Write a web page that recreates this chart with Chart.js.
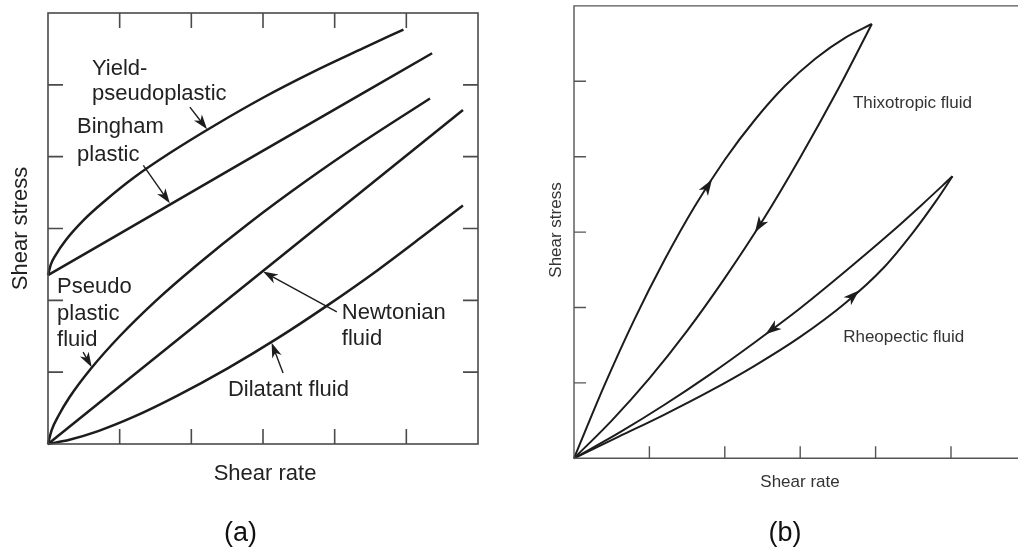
<!DOCTYPE html>
<html>
<head>
<meta charset="utf-8">
<title>Flow curves</title>
<script src="https://cdn.jsdelivr.net/npm/chart.js@4"></script>
<style>
  html, body { margin: 0; padding: 0; background: #fff; overflow: hidden; }
  body { width: 1018px; height: 547px; position: relative; }
  canvas { position: absolute; top: 0; }
  #chartA { left: 0; }
  #chartB { left: 540px; }
</style>
</head>
<body>
<canvas id="chartA" width="520" height="547"></canvas>
<canvas id="chartB" width="500" height="547"></canvas>
<script>
'use strict';

// (a) time-independent fluids: shear rate vs shear stress (axis units 0-6)
const yieldPseudoRate   = [0, 0.04, 0.1, 0.25, 0.5, 0.8, 1.2, 1.7, 2.3, 3.0, 3.7, 4.4, 4.96];
const yieldPseudoStress = [2.35, 2.50, 2.62, 2.84, 3.12, 3.39, 3.71, 4.05, 4.42, 4.82, 5.18, 5.51, 5.77];
const binghamRate   = [0, 2.7, 5.36];
const binghamStress = [2.35, 3.91, 5.44];
const pseudoRate   = [0, 0.05, 0.15, 0.3, 0.6, 1.0, 1.5, 2.1, 2.8, 3.6, 4.4, 5.33];
const pseudoStress = [0, 0.19, 0.40, 0.65, 1.05, 1.50, 1.99, 2.51, 3.07, 3.66, 4.21, 4.81];
const newtonRate   = [0, 5.79];
const newtonStress = [0, 4.65];
const dilatantRate   = [0, 0.3, 0.7, 1.2, 1.8, 2.5, 3.2, 3.9, 4.6, 5.2, 5.79];
const dilatantStress = [0, 0.06, 0.18, 0.38, 0.67, 1.05, 1.47, 1.93, 2.42, 2.87, 3.32];

// (b) time-dependent fluids: up and down branches of each loop
const thixoUpRate     = [0, 0.4, 0.8, 1.2, 1.6, 2.0, 2.4, 2.8, 3.2, 3.6, 3.95];
const thixoUpStress   = [0, 0.96, 1.84, 2.63, 3.34, 3.96, 4.49, 4.94, 5.30, 5.58, 5.76];
const thixoDownRate   = [0, 0.5, 1.0, 1.5, 2.0, 2.5, 3.0, 3.5, 3.95];
const thixoDownStress = [0, 0.50, 1.06, 1.69, 2.39, 3.15, 3.99, 4.89, 5.76];
const rheoDownRate    = [0, 0.6, 1.2, 1.8, 2.4, 3.0, 3.6, 4.2, 4.6, 5.02];
const rheoDownStress  = [0, 0.34, 0.71, 1.11, 1.54, 1.99, 2.48, 2.99, 3.35, 3.74];
const rheoUpRate      = [0, 0.6, 1.2, 1.8, 2.4, 3.0, 3.6, 4.1, 4.5, 4.8, 5.02];
const rheoUpStress    = [0, 0.29, 0.58, 0.89, 1.23, 1.61, 2.06, 2.52, 3.00, 3.41, 3.74];

const tickValues = [1, 2, 3, 4, 5];

const FONT = '"Liberation Sans", Arial, Helvetica, sans-serif';
const INK = '#1c1c1c';

// label callouts for (a): text lines and arrow from -> to, in axis units
const labelsA = [
  { text: 'Yield-', at: [0.614, 5.137] },
  { text: 'pseudoplastic', at: [0.614, 4.789] },
  { text: 'Bingham', at: [0.405, 4.33] },
  { text: 'plastic', at: [0.405, 3.94] },
  { text: 'Pseudo', at: [0.126, 2.10] },
  { text: 'plastic', at: [0.126, 1.726] },
  { text: 'fluid', at: [0.126, 1.364] },
  { text: 'Newtonian', at: [4.10, 1.74] },
  { text: 'fluid', at: [4.10, 1.378] },
  { text: 'Dilatant fluid', at: [2.51, 0.668] }
];
const pointersA = [
  { from: [1.98, 4.69], to: [2.22, 4.38] },
  { from: [1.33, 3.88], to: [1.70, 3.35] },
  { from: [0.49, 1.28], to: [0.61, 1.07] },
  { from: [4.03, 1.84], to: [3.00, 2.40] },
  { from: [3.28, 0.99], to: [3.12, 1.41] }
];
const labelsB = [
  { text: 'Thixotropic fluid', at: [3.70, 4.64] },
  { text: 'Rheopectic fluid', at: [3.57, 1.546] }
];
// direction markers on the loops (dir +1 = increasing shear rate)
const flowArrowsB = [
  { rate: thixoUpRate, stress: thixoUpStress, at: 1.83, dir: 1 },
  { rate: thixoDownRate, stress: thixoDownStress, at: 2.40, dir: -1 },
  { rate: rheoDownRate, stress: rheoDownStress, at: 2.54, dir: -1 },
  { rate: rheoUpRate, stress: rheoUpStress, at: 3.78, dir: 1 }
];

function curve(rates, stresses, width) {
  return {
    data: rates.map((r, i) => ({ x: r, y: stresses[i] })),
    showLine: true,
    borderColor: INK,
    borderWidth: width,
    pointRadius: 0,
    cubicInterpolationMode: 'monotone',
    fill: false,
    clip: false
  };
}

// linear lookup along a branch
function stressAt(rates, stresses, r) {
  for (let i = 1; i < rates.length; i++) {
    if (r <= rates[i]) {
      const t = (r - rates[i - 1]) / (rates[i] - rates[i - 1]);
      return stresses[i - 1] + t * (stresses[i] - stresses[i - 1]);
    }
  }
  return stresses[stresses.length - 1];
}

function arrowHead(ctx, x, y, angle, len, half) {
  ctx.save();
  ctx.translate(x, y);
  ctx.rotate(angle);
  ctx.beginPath();
  ctx.moveTo(0, 0);
  ctx.lineTo(-len, -half);
  ctx.lineTo(-len * 0.72, 0);
  ctx.lineTo(-len, half);
  ctx.closePath();
  ctx.fillStyle = INK;
  ctx.fill();
  ctx.restore();
}

function putText(ctx, str, x, y, size, align, color) {
  ctx.font = size + 'px ' + FONT;
  ctx.textAlign = align;
  ctx.textBaseline = 'alphabetic';
  ctx.fillStyle = color;
  ctx.fillText(str, x, y);
}

function putVertical(ctx, str, x, y, size, color) {
  ctx.save();
  ctx.translate(x, y);
  ctx.rotate(-Math.PI / 2);
  putText(ctx, str, 0, 0, size, 'center', color);
  ctx.restore();
}

// frame, ticks and callouts for (a)
const panelA = {
  id: 'panelA',
  afterDatasetsDraw(chart) {
    const { ctx, chartArea: a, scales: { x, y } } = chart;
    ctx.save();
    ctx.strokeStyle = '#4a4a4a';
    ctx.lineWidth = 1.6;
    ctx.strokeRect(a.left, a.top, a.right - a.left, a.bottom - a.top);
    ctx.beginPath();
    tickValues.forEach((v) => {
      const px = x.getPixelForValue(v);
      const py = y.getPixelForValue(v);
      ctx.moveTo(px, a.top); ctx.lineTo(px, a.top + 15);
      ctx.moveTo(px, a.bottom); ctx.lineTo(px, a.bottom - 15);
      ctx.moveTo(a.left, py); ctx.lineTo(a.left + 15, py);
      ctx.moveTo(a.right, py); ctx.lineTo(a.right - 15, py);
    });
    ctx.stroke();

    labelsA.forEach((l) => {
      putText(ctx, l.text, x.getPixelForValue(l.at[0]), y.getPixelForValue(l.at[1]), 22, 'left', '#222');
    });

    ctx.strokeStyle = INK;
    ctx.lineWidth = 1.4;
    pointersA.forEach((p) => {
      const x0 = x.getPixelForValue(p.from[0]), y0 = y.getPixelForValue(p.from[1]);
      const x1 = x.getPixelForValue(p.to[0]), y1 = y.getPixelForValue(p.to[1]);
      const ang = Math.atan2(y1 - y0, x1 - x0);
      ctx.beginPath();
      ctx.moveTo(x0, y0);
      ctx.lineTo(x1 - Math.cos(ang) * 9, y1 - Math.sin(ang) * 9);
      ctx.stroke();
      arrowHead(ctx, x1, y1, ang, 15, 5);
    });

    putText(ctx, 'Shear rate', (a.left + a.right) / 2 + 2, a.bottom + 36, 22, 'center', '#222');
    putVertical(ctx, 'Shear stress', 27, (a.top + a.bottom) / 2, 22, '#222');
    putText(ctx, '(a)', 240.5, 541, 27, 'center', '#111');
    ctx.restore();
  }
};

// open frame, ticks and loop markers for (b)
const panelB = {
  id: 'panelB',
  afterDatasetsDraw(chart) {
    const { ctx, chartArea: a, scales: { x, y }, width } = chart;
    ctx.save();
    ctx.strokeStyle = '#555';
    ctx.lineWidth = 1.4;
    ctx.beginPath();
    ctx.moveTo(width, a.top); ctx.lineTo(a.left, a.top);
    ctx.lineTo(a.left, a.bottom); ctx.lineTo(width, a.bottom);
    tickValues.forEach((v) => {
      const px = x.getPixelForValue(v);
      const py = y.getPixelForValue(v);
      ctx.moveTo(px, a.bottom); ctx.lineTo(px, a.bottom - 12);
      ctx.moveTo(a.left, py); ctx.lineTo(a.left + 12, py);
    });
    ctx.stroke();

    flowArrowsB.forEach((f) => {
      const back = f.at - f.dir * 0.15;
      const x1 = x.getPixelForValue(f.at), y1 = y.getPixelForValue(stressAt(f.rate, f.stress, f.at));
      const x0 = x.getPixelForValue(back), y0 = y.getPixelForValue(stressAt(f.rate, f.stress, back));
      arrowHead(ctx, x1, y1, Math.atan2(y1 - y0, x1 - x0), 16, 5.5);
    });

    labelsB.forEach((l) => {
      putText(ctx, l.text, x.getPixelForValue(l.at[0]), y.getPixelForValue(l.at[1]), 17, 'left', '#333');
    });

    putText(ctx, 'Shear rate', 260, 487, 17, 'center', '#333');
    putVertical(ctx, 'Shear stress', 20.5, 230, 17, '#333');
    putText(ctx, '(b)', 245, 541, 27, 'center', '#111');
    ctx.restore();
  }
};

function baseOptions(padding) {
  return {
    responsive: false,
    animation: false,
    devicePixelRatio: 1,
    layout: { padding: padding },
    plugins: { legend: { display: false }, tooltip: { enabled: false } },
    scales: {
      x: { type: 'linear', min: 0, max: 6, display: false },
      y: { type: 'linear', min: 0, max: 6, display: false }
    }
  };
}

new Chart(document.getElementById('chartA'), {
  type: 'scatter',
  data: {
    datasets: [
      curve(yieldPseudoRate, yieldPseudoStress, 2.5),
      curve(binghamRate, binghamStress, 2.5),
      curve(pseudoRate, pseudoStress, 2.5),
      curve(newtonRate, newtonStress, 2.5),
      curve(dilatantRate, dilatantStress, 2.5)
    ]
  },
  options: baseOptions({ left: 48, top: 13, right: 42, bottom: 103 }),
  plugins: [panelA]
});

new Chart(document.getElementById('chartB'), {
  type: 'scatter',
  data: {
    datasets: [
      curve(thixoUpRate, thixoUpStress, 2),
      curve(thixoDownRate, thixoDownStress, 2),
      curve(rheoDownRate, rheoDownStress, 2),
      curve(rheoUpRate, rheoUpStress, 2)
    ]
  },
  options: baseOptions({ left: 34, top: 5.9, right: 13.6, bottom: 88.7 }),
  plugins: [panelB]
});
</script>
</body>
</html>
